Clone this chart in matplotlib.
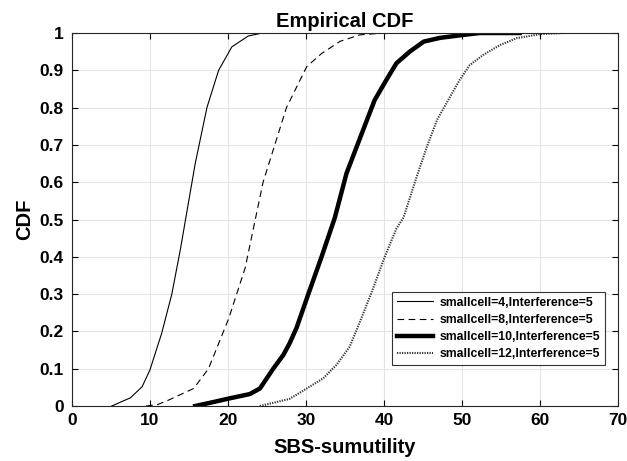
import matplotlib.pyplot as plt

plt.rcParams['font.family'] = ['Liberation Sans', 'DejaVu Sans']
plt.rcParams['font.weight'] = 'bold'

# empirical CDF curves, (utility, probability) pairs
x_sc4 = [5.1, 6.4, 7.5, 9.0, 10.0, 11.5, 12.8, 13.9, 14.6, 15.8, 17.3, 18.8, 20.5, 22.6, 24.4]
y_sc4 = [0.0, 0.012, 0.022, 0.052, 0.097, 0.195, 0.30, 0.42, 0.505, 0.65, 0.80, 0.90, 0.963, 0.992, 1.0]

x_sc8 = [9.5, 11.0, 12.4, 15.6, 17.5, 20.1, 22.2, 23.5, 24.5, 26.0, 27.5, 30.1, 32.0, 34.4, 36.9, 39.9]
y_sc8 = [0.0, 0.004, 0.016, 0.047, 0.10, 0.235, 0.37, 0.50, 0.60, 0.70, 0.80, 0.91, 0.945, 0.978, 0.995, 1.0]

x_sc10 = [15.8, 18.0, 20.1, 22.8, 24.1, 25.8, 27.1, 27.9, 28.8, 30.3, 32.0, 33.7, 35.2, 36.5,
          38.8, 40.3, 41.6, 43.3, 45.1, 47.2, 50.2, 52.3, 57.4]
y_sc10 = [0.0, 0.010, 0.020, 0.032, 0.047, 0.10, 0.137, 0.168, 0.21, 0.30, 0.40, 0.505, 0.624, 0.695,
          0.82, 0.874, 0.919, 0.95, 0.977, 0.987, 0.995, 1.0, 1.0]

x_sc12 = [24.1, 27.9, 30.1, 32.2, 33.9, 35.6, 37.1, 38.6, 40.1, 41.6, 42.5, 44.2, 45.5, 46.8,
          48.5, 49.7, 51.0, 52.7, 54.9, 57.0, 60.0, 63.0]
y_sc12 = [0.0, 0.019, 0.047, 0.074, 0.11, 0.159, 0.235, 0.315, 0.40, 0.476, 0.505, 0.615, 0.695, 0.767,
          0.83, 0.874, 0.914, 0.941, 0.968, 0.986, 0.997, 1.0]

labels = ['smallcell=4,Interference=5', 'smallcell=8,Interference=5',
          'smallcell=10,Interference=5', 'smallcell=12,Interference=5']

fig = plt.figure(figsize=(6.27, 4.61), dpi=100)
ax = fig.add_axes([0.1148, 0.1193, 0.8708, 0.8091])

ax.plot(x_sc4, y_sc4, color='black', linewidth=0.8, linestyle='-', label=labels[0])
ax.plot(x_sc8, y_sc8, color='black', linewidth=0.8, linestyle=(0, (6, 4)), label=labels[1])
ax.plot(x_sc10, y_sc10, color='black', linewidth=3.2, linestyle='-', label=labels[2])
ax.plot(x_sc12, y_sc12, color='#333333', linewidth=1.5, linestyle=(0, (0.6, 0.6)), label=labels[3])

ax.set_xlim(0, 70)
ax.set_ylim(0, 1)
ax.set_xticks(range(0, 71, 10))
ax.set_yticks([i / 10 for i in range(11)])
ax.set_yticklabels(['0', '0.1', '0.2', '0.3', '0.4', '0.5', '0.6', '0.7', '0.8', '0.9', '1'])
ax.grid(True, color='#e3e3e3', linewidth=0.8)
ax.set_axisbelow(True)
ax.tick_params(direction='in', top=True, right=True, labelsize=12.5, length=4, width=0.8)
ax.tick_params(axis='y', pad=6)
ax.tick_params(axis='x', pad=5)
for lab in ax.get_xticklabels() + ax.get_yticklabels():
    lab.set_fontweight('bold')
for sp in ax.spines.values():
    sp.set_linewidth(0.8)
    sp.set_color('#262626')

ax.set_title('Empirical CDF', fontsize=14.5, fontweight='bold', pad=4)
ax.set_xlabel('SBS-sumutility', fontsize=14.5, fontweight='bold', labelpad=7)
ax.set_ylabel('CDF', fontsize=14.5, fontweight='bold', labelpad=4)

leg = ax.legend(loc='lower right', bbox_to_anchor=(0.976, 0.110), fontsize=8.8,
                handlelength=3.0, frameon=True, fancybox=False, edgecolor='black',
                borderpad=0.4, labelspacing=0.42, handletextpad=0.5, borderaxespad=0)
leg.get_frame().set_linewidth(0.8)
for t in leg.get_texts():
    t.set_fontweight('bold')

fig.savefig('out.png', dpi=100, facecolor='white')
